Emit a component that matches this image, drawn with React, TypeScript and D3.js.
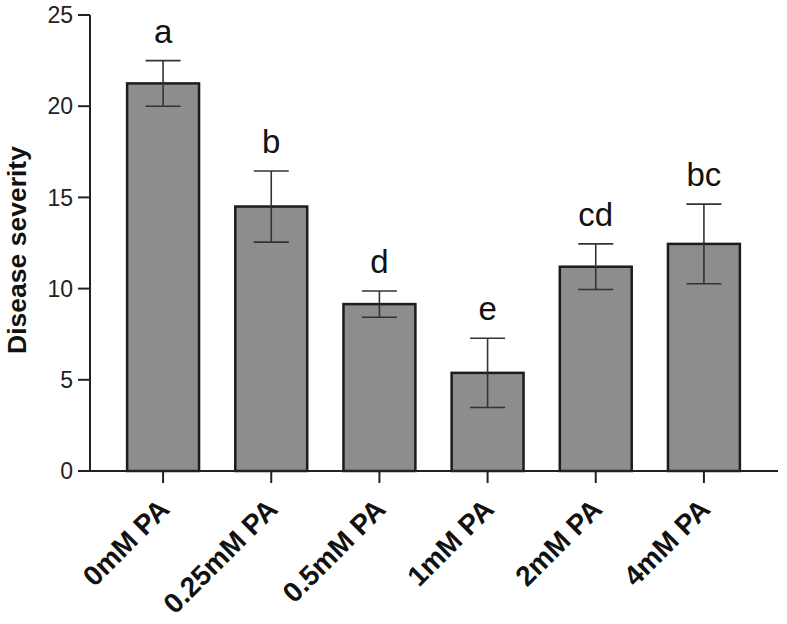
import { useRef, useEffect } from 'react';
import * as d3 from 'd3';

const categories = ['0mM PA', '0.25mM PA', '0.5mM PA', '1mM PA', '2mM PA', '4mM PA'];
const means = [21.25, 14.5, 9.15, 5.38, 11.2, 12.45];
const errors = [1.25, 1.95, 0.72, 1.9, 1.25, 2.18];
const letters = ['a', 'b', 'd', 'e', 'cd', 'bc'];
const yTicks = [0, 5, 10, 15, 20, 25];

export default function App() {
  const svgRef = useRef<SVGSVGElement>(null);

  useEffect(() => {
    const width = 787;
    const height = 624;
    const svg = d3.select(svgRef.current)
      .attr('width', width)
      .attr('height', height);
    svg.selectAll('*').remove();

    const font = 'Liberation Sans, Arial, sans-serif';
    const axisX = 90;
    const axisEnd = 778;

    const y = d3.scaleLinear().domain([0, 25]).range([471, 15]);
    const x = d3.scaleBand()
      .domain(categories)
      .range([109, 758])
      .paddingInner(0.335)
      .paddingOuter(0.1675);

    const g = svg.append('g');

    // bars
    g.selectAll('rect.bar')
      .data(categories)
      .enter()
      .append('rect')
      .attr('class', 'bar')
      .attr('x', d => x(d)!)
      .attr('y', (d, i) => y(means[i]))
      .attr('width', x.bandwidth())
      .attr('height', (d, i) => y(0) - y(means[i]))
      .attr('fill', '#8d8d8d')
      .attr('stroke', '#1c1c1c')
      .attr('stroke-width', 2.5);

    // error bars + significance letters
    const capW = 35;
    categories.forEach((c, i) => {
      const cx = x(c)! + x.bandwidth() / 2;
      const top = y(means[i] + errors[i]);
      const bot = y(means[i] - errors[i]);
      const eg = g.append('g').attr('stroke', '#333').attr('stroke-width', 1.6);
      eg.append('line').attr('x1', cx).attr('x2', cx).attr('y1', top).attr('y2', bot);
      eg.append('line').attr('x1', cx - capW / 2).attr('x2', cx + capW / 2).attr('y1', top).attr('y2', top);
      eg.append('line').attr('x1', cx - capW / 2).attr('x2', cx + capW / 2).attr('y1', bot).attr('y2', bot);

      g.append('text')
        .attr('x', cx)
        .attr('y', top - 18)
        .attr('text-anchor', 'middle')
        .attr('font-family', font)
        .attr('font-size', 33)
        .attr('fill', '#111')
        .text(letters[i]);
    });

    // y axis
    g.append('line')
      .attr('x1', axisX).attr('x2', axisX)
      .attr('y1', y(25)).attr('y2', y(0) + 1)
      .attr('stroke', '#222').attr('stroke-width', 2);
    yTicks.forEach(t => {
      g.append('line')
        .attr('x1', axisX - 12).attr('x2', axisX)
        .attr('y1', y(t)).attr('y2', y(t))
        .attr('stroke', '#222').attr('stroke-width', 2);
      g.append('text')
        .attr('x', axisX - 17)
        .attr('y', y(t))
        .attr('dy', '0.36em')
        .attr('text-anchor', 'end')
        .attr('font-family', font)
        .attr('font-size', 23)
        .attr('fill', '#222')
        .text(t);
    });

    // x axis
    g.append('line')
      .attr('x1', axisX).attr('x2', axisEnd)
      .attr('y1', y(0)).attr('y2', y(0))
      .attr('stroke', '#222').attr('stroke-width', 2);
    categories.forEach(c => {
      const cx = x(c)! + x.bandwidth() / 2;
      g.append('line')
        .attr('x1', cx).attr('x2', cx)
        .attr('y1', y(0)).attr('y2', y(0) + 12)
        .attr('stroke', '#222').attr('stroke-width', 2);
      g.append('text')
        .attr('transform', `translate(${cx + 8},${y(0) + 40}) rotate(-45)`)
        .attr('text-anchor', 'end')
        .attr('font-family', font)
        .attr('font-weight', 'bold')
        .attr('font-size', 28)
        .attr('fill', '#111')
        .text(c);
    });

    // y title
    g.append('text')
      .attr('transform', `translate(26,250) rotate(-90)`)
      .attr('text-anchor', 'middle')
      .attr('font-family', font)
      .attr('font-weight', 'bold')
      .attr('font-size', 26.5)
      .attr('fill', '#111')
      .text('Disease severity');
  }, []);

  return (
    <svg ref={svgRef} style={{ position: 'absolute', left: 0, top: 0, background: '#fff' }} />
  );
}
